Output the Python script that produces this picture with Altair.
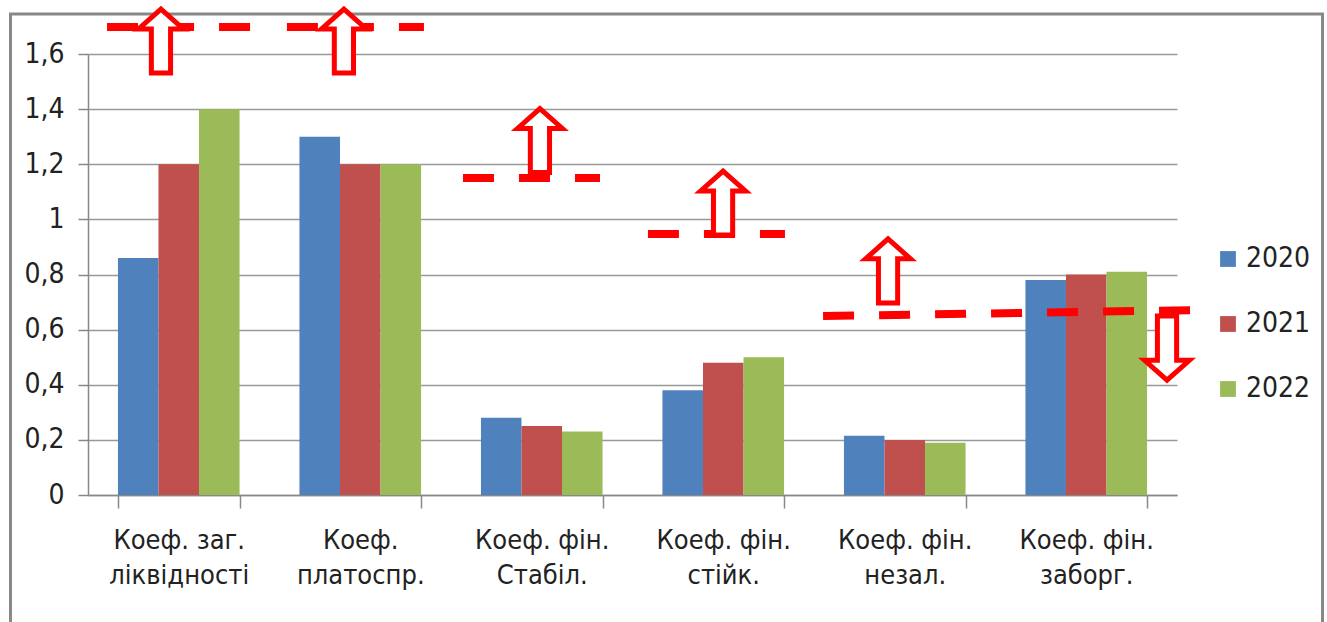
import altair as alt
import pandas as pd

# ---- data ----
categories = ["Коеф. заг.|ліквідності", "Коеф.|платоспр.", "Коеф. фін.|Стабіл.",
              "Коеф. фін.|стійк.", "Коеф. фін.|незал.", "Коеф. фін.|заборг."]
years = ["2020", "2021", "2022"]
v2020 = [0.86, 1.30, 0.28, 0.38, 0.215, 0.78]
v2021 = [1.20, 1.20, 0.25, 0.48, 0.20, 0.80]
v2022 = [1.40, 1.20, 0.23, 0.50, 0.19, 0.81]
colors = ["#4F81BD", "#C0504D", "#9BBB59"]

# annotation dashed levels (x in category units 0..6, y in data units)
line_id = ["a", "a", "b", "b", "c", "c", "d", "d", "e", "e"]
line_x = [0.105, 0.893, 1.096, 1.851, 2.066, 2.821, 3.085, 3.840, 4.050, 6.127]
line_y = [1.698, 1.698, 1.698, 1.698, 1.150, 1.150, 0.947, 0.947, 0.649, 0.671]

# annotation arrows
arrow_x = [0.402, 1.410, 2.490, 3.499, 4.408, 5.945]
arrow_y = [1.647, 1.647, 1.286, 1.059, 0.813, 0.533]
arrow_dir = ["up", "up", "up", "up", "up", "down"]

UP = "M0,-1L0.7,-0.38L0.3,-0.38L0.3,1L-0.3,1L-0.3,-0.38L-0.7,-0.38Z"
DOWN = "M0,1L0.7,0.38L0.3,0.38L0.3,-1L-0.3,-1L-0.3,0.38L-0.7,0.38Z"

FONT = "Liberation Sans Narrow, DejaVu Sans Condensed, sans-serif"

rows = []
for i, c in enumerate(categories):
    for y, vals in zip(years, [v2020, v2021, v2022]):
        rows.append({"cat": c, "year": y, "value": vals[i]})
bars_df = pd.DataFrame(rows)
lines_df = pd.DataFrame({"id": line_id, "pos": line_x, "value": line_y})
arrows_df = pd.DataFrame({"pos": arrow_x, "value": arrow_y, "dir": arrow_dir})

yscale = alt.Scale(domain=[0, 1.6], nice=False, zero=True)
yaxis = alt.Axis(values=[0, 0.2, 0.4, 0.6, 0.8, 1, 1.2, 1.4, 1.6],
                 labelExpr="replace(toString(datum.value), '.', ',')",
                 labelFontSize=28, labelColor="#222222", labelFont=FONT,
                 labelPadding=14, tickSize=10, tickColor="#888888",
                 tickWidth=1.5, domainColor="#888888", domainWidth=1.5,
                 gridColor="#999999", gridWidth=1.5)

border = alt.Chart(pd.DataFrame({"a": [0]})).mark_rect(
    fill="white", fillOpacity=0, stroke="#888888", strokeWidth=3
).encode(
    x=alt.value(-77.5), x2=alt.value(1234.5), y=alt.value(-40), y2=alt.value(700)
)

bars = alt.Chart(bars_df).mark_bar().encode(
    x=alt.X("cat:N", sort=categories, title=None,
            scale=alt.Scale(paddingInner=0.33, paddingOuter=0.165),
            axis=alt.Axis(labelAngle=0, labelExpr="split(datum.label, '|')",
                          labelFontSize=27, labelLineHeight=35, labelPadding=19,
                          labelColor="#222222", labelFont=FONT,
                          tickBand="extent", tickSize=13, tickColor="#888888",
                          tickWidth=1.5, domainColor="#888888", domainWidth=1.5,
                          grid=False)),
    xOffset=alt.XOffset("year:N", sort=years, scale=alt.Scale(paddingInner=0, paddingOuter=0)),
    y=alt.Y("value:Q", scale=yscale, title=None, axis=yaxis),
    color=alt.Color("year:N", sort=years,
                    scale=alt.Scale(domain=years, range=colors),
                    legend=alt.Legend(title=None, orient="none", legendX=1126, legendY=191,
                                      symbolType="square", symbolSize=250,
                                      symbolStrokeWidth=0, labelFontSize=28,
                                      labelFont=FONT, labelColor="#222222",
                                      labelOffset=4, rowPadding=37, padding=0)),
)

xq = alt.Scale(domain=[0, 6], nice=False, zero=False)

lines = alt.Chart(lines_df).mark_line(
    color="#FF0000", strokeWidth=8, strokeDash=[31, 25], strokeCap="butt"
).encode(
    x=alt.X("pos:Q", scale=xq, axis=None),
    y=alt.Y("value:Q", scale=yscale, title=None, axis=yaxis),
    detail="id:N",
)

arrows = alt.Chart(arrows_df).mark_point(
    filled=True, fill="white", stroke="#FF0000", strokeWidth=5, size=4096, opacity=1
).encode(
    x=alt.X("pos:Q", scale=xq, axis=None),
    y=alt.Y("value:Q", scale=yscale, title=None, axis=yaxis),
    shape=alt.Shape("dir:N", scale=alt.Scale(domain=["up", "down"], range=[UP, DOWN]), legend=None),
)

chart = alt.layer(border, bars, lines, arrows).resolve_scale(
    x="independent", shape="independent"
).properties(
    width=1089, height=441,
    autosize=alt.AutoSizeParams(type="none"),
    padding={"left": 88, "top": 54, "right": 150, "bottom": 127},
    background="white",
).configure_view(stroke=None)

chart.save("out.html", embed_options={"renderer": "svg", "actions": False})
